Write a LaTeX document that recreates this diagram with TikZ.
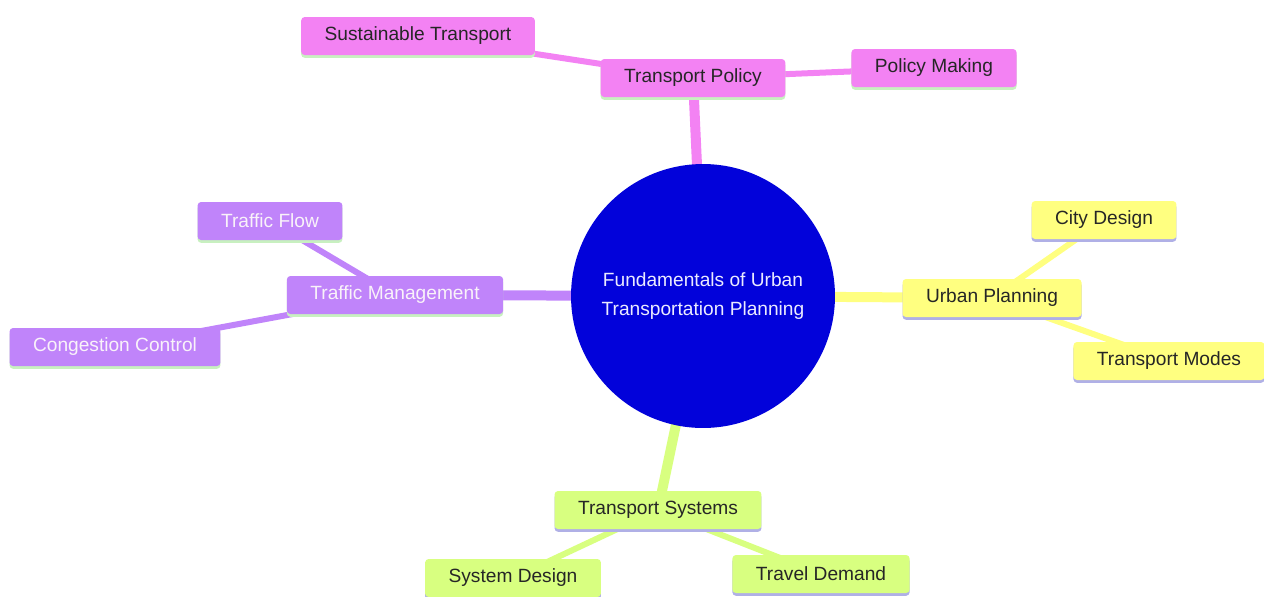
\documentclass[tikz,border=0pt]{standalone}
\usepackage{fontspec}
\setmainfont{Liberation Sans}
\usetikzlibrary{shadows,backgrounds}
\definecolor{hubblue}{RGB}{2,2,218}
\definecolor{policypink}{RGB}{243,130,243}
\definecolor{trafficviolet}{RGB}{192,132,250}
\definecolor{urbanyellow}{RGB}{255,255,128}
\definecolor{systemgreen}{RGB}{216,255,128}
\definecolor{mintline}{RGB}{200,240,192}
\definecolor{lavenderline}{RGB}{176,176,230}
\tikzset{
    topic/.style={
        rounded corners=2pt,
        minimum height=0.76cm,
        inner xsep=0.47cm,
        font=\fontsize{10.9}{13}\selectfont,
        text=black!85
    },
    mintbox/.style={
        topic,
        general shadow={fill=mintline, shadow yshift=-1.6pt}
    },
    lavbox/.style={
        topic,
        general shadow={fill=lavenderline, shadow yshift=-1.6pt}
    },
    trunk/.style={line width=0.2cm},
    twig/.style={line width=0.12cm}
}

\begin{document}
\begin{tikzpicture}[x=0.02cm,y=-0.02cm]
  \useasboundingbox (0,0) rectangle (1264,596);

  % Central topic
  \node[circle, fill=hubblue, minimum size=5.28cm, align=center,
        text=blue!8, font=\fontsize{10.9}{17}\selectfont] (hub) at (703,296)
        {Fundamentals of Urban\\Transportation Planning};

  % Transport policy branch
  \node[mintbox, fill=policypink] (policy) at (693,78) {Transport Policy};
  \node[mintbox, fill=policypink] (sustain) at (418,36) {Sustainable Transport};
  \node[mintbox, fill=policypink] (making) at (934,68) {Policy Making};

  % Traffic management branch
  \node[mintbox, fill=trafficviolet, text=white!95!violet] (traffic) at (395,295) {Traffic Management};
  \node[mintbox, fill=trafficviolet, text=white!95!violet] (flow) at (270,221) {Traffic Flow};
  \node[mintbox, fill=trafficviolet, text=white!95!violet] (congest) at (115,347) {Congestion Control};

  % Urban planning branch
  \node[lavbox, fill=urbanyellow] (urban) at (992,298) {Urban Planning};
  \node[lavbox, fill=urbanyellow] (city) at (1104,220) {City Design};
  \node[lavbox, fill=urbanyellow] (modes) at (1169,361) {Transport Modes};

  % Transport systems branch
  \node[lavbox, fill=systemgreen] (systems) at (658,510) {Transport Systems};
  \node[lavbox, fill=systemgreen] (sysdesign) at (513,578) {System Design};
  \node[lavbox, fill=systemgreen] (demand) at (821,574) {Travel Demand};

  % Connectors
  \begin{scope}[on background layer]
    \draw[trunk, policypink] (hub.center) -- (policy.center);
    \draw[twig, policypink] (policy.center) -- (sustain.center);
    \draw[twig, policypink] (policy.center) -- (making.center);

    \draw[trunk, trafficviolet] (hub.center) -- (traffic.center);
    \draw[twig, trafficviolet] (traffic.center) -- (flow.center);
    \draw[twig, trafficviolet] (traffic.center) -- (congest.center);

    \draw[trunk, urbanyellow] (hub.center) -- (urban.center);
    \draw[twig, urbanyellow] (urban.center) -- (city.center);
    \draw[twig, urbanyellow] (urban.center) -- (modes.center);

    \draw[trunk, systemgreen] (hub.center) -- (systems.center);
    \draw[twig, systemgreen] (systems.center) -- (sysdesign.center);
    \draw[twig, systemgreen] (systems.center) -- (demand.center);
  \end{scope}
\end{tikzpicture}
\end{document}
